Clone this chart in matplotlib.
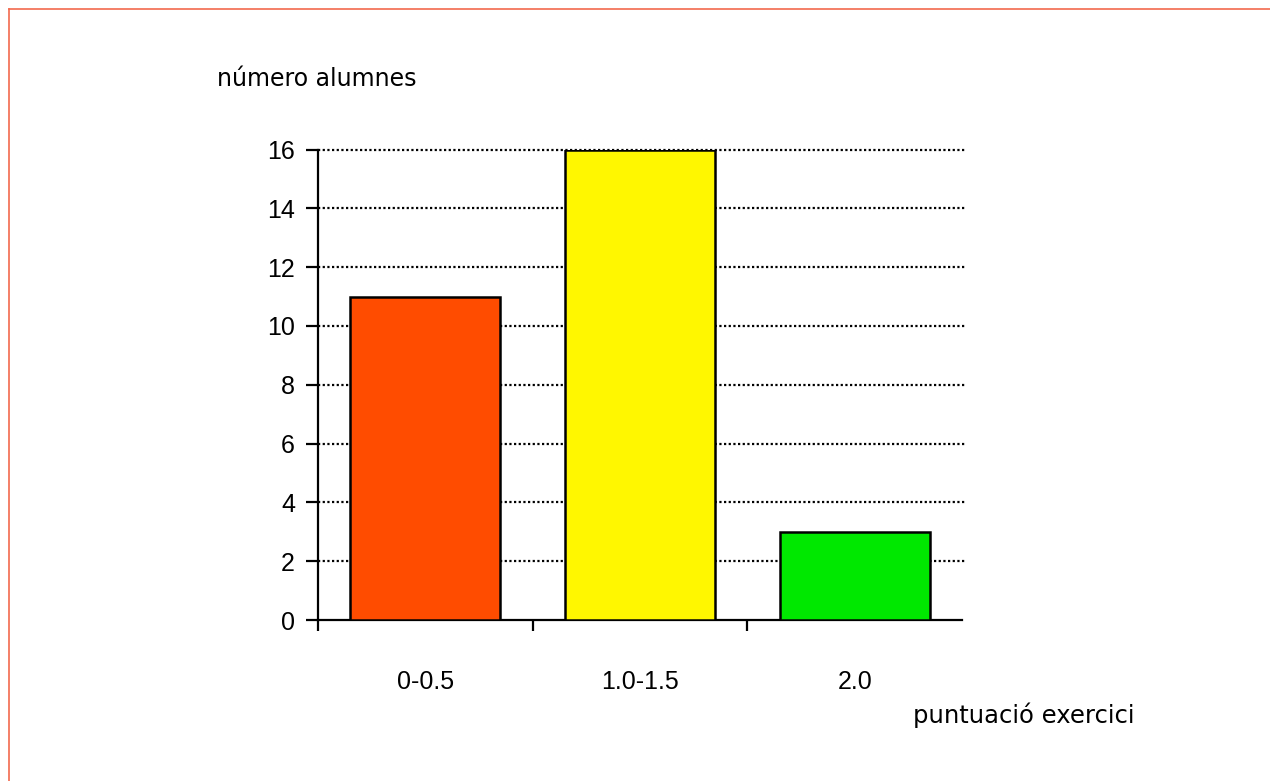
import matplotlib
matplotlib.use("Agg")
import matplotlib.pyplot as plt
from matplotlib.lines import Line2D

# data
categories = ['0-0.5', '1.0-1.5', '2.0']
alumnes = [11, 16, 3]
colors = ['#ff4c00', '#fff700', '#00e800']
yticks = [0, 2, 4, 6, 8, 10, 12, 14, 16]

fig = plt.figure(figsize=(12.7, 7.81), dpi=100)
fig.patch.set_facecolor('white')

# thin salmon frame on top and left edges
fig.add_artist(Line2D([9 / 1270, 1], [1 - 9 / 781, 1 - 9 / 781], transform=fig.transFigure,
                      color='#f2694e', lw=1.2))
fig.add_artist(Line2D([9 / 1270, 9 / 1270], [0, 1 - 9 / 781], transform=fig.transFigure,
                      color='#f2694e', lw=1.2))

ax = fig.add_axes([318 / 1270, 1 - 620 / 781, (962 - 318) / 1270, (620 - 149.5) / 781])

x = range(len(categories))
ax.bar(x, alumnes, width=0.7, color=colors, edgecolor='black', linewidth=1.8, zorder=3)

ax.set_xlim(-0.5, 2.5)
ax.set_ylim(0, 16)
ax.set_yticks(yticks)
ax.set_yticklabels([str(v) for v in yticks], fontsize=18, family='Liberation Sans')

# dotted gridlines (none at 0)
for v in yticks[1:]:
    ax.axhline(v, xmax=1.005, color='black', lw=1.6, linestyle=(0, (1, 1.1)),
               zorder=1, clip_on=False)

ax.set_xticks(list(x))
ax.set_xticklabels(categories, fontsize=18, family='Liberation Sans')
ax.set_xticks([-0.5, 0.5, 1.5], minor=True)
ax.tick_params(axis='x', which='major', length=0, pad=36)
ax.tick_params(axis='x', which='minor', length=8, width=1.6, direction='out')
ax.tick_params(axis='y', length=8.5, width=1.6, direction='out', pad=8)

for side in ['top', 'right']:
    ax.spines[side].set_visible(False)
for side in ['left', 'bottom']:
    ax.spines[side].set_linewidth(1.6)

fig.text(217 / 1270, 1 - 86 / 781, 'número alumnes', fontsize=17,
         ha='left', va='baseline', family='DejaVu Sans')
fig.text(913 / 1270, 1 - 723 / 781, 'puntuació exercici', fontsize=17.5,
         ha='left', va='baseline', family='DejaVu Sans')

fig.savefig('out.png', dpi=100)
